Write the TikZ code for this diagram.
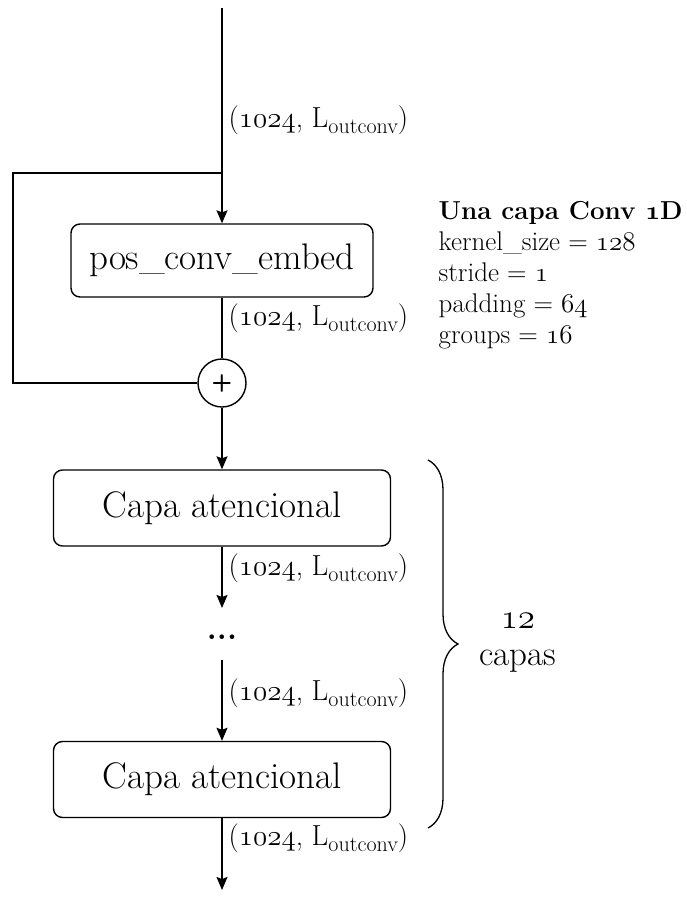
\RequirePackage{fix-cm}
\documentclass[tikz,border=0pt]{standalone}
\usetikzlibrary{arrows.meta,decorations.pathreplacing}

% old-style figures taken from the math italic font
\newcommand\osf[1]{{\usefont{OML}{cmm}{m}{it}#1}}
\newcommand\osfb[1]{{\usefont{OML}{cmm}{b}{it}#1}}
\newcommand\dimlabel{(\osf{1024}, L\raisebox{-0.22em}{\fontsize{22}{22}\selectfont outconv})}

\tikzset{
  block/.style={draw, rounded corners=9pt, inner sep=0pt,
    font=\fontsize{37}{42}\selectfont},
  dimtext/.style={anchor=west, inner sep=0pt, font=\fontsize{29}{32}\selectfont},
  flow/.style={->},
}

\begin{document}
\begin{tikzpicture}[x=1pt, y=-1pt, line width=1.4pt,
  >={Stealth[length=13pt,width=11pt,inset=2pt]}]
\useasboundingbox (0,0) rectangle (687,899);

% blocks
\node[block, minimum width=302pt, minimum height=73pt] (pce) at (222,260.5) {pos\_conv\_embed};
\node[circle, draw, minimum size=48pt, inner sep=0pt] (add) at (222,383)
  {\fontsize{24}{24}\selectfont\sffamily\bfseries +};
\node[block, minimum width=337pt, minimum height=76pt] (att1) at (222,508) {Capa atencional};
\node[inner sep=0pt, font=\fontsize{32}{32}\selectfont\bfseries] (dots) at (222,637) {...};
\node[block, minimum width=337pt, minimum height=76pt] (att2) at (222,779.5) {Capa atencional};

% free ends of the connectors
\coordinate (top) at (222,8);
\coordinate (split) at (222,173);
\coordinate (loopL) at (13,173);
\coordinate (d1) at (222,608);
\coordinate (d2) at (222,660);
\coordinate (bot) at (222,890);

% connectors
\draw[flow] (top) -- (pce);
\draw (split) -- (loopL) |- (add);
\draw (pce) -- (add);
\draw[flow] (add) -- (att1);
\draw[flow] (att1) -- (d1);
\draw[flow] (d2) -- (att2);
\draw[flow] (att2) -- (bot);

% tensor shapes
\node[dimtext] (s0) at (228,120) {\dimlabel};
\node[dimtext] (s1) at (228,318) {\dimlabel};
\node[dimtext] (s2) at (228,568) {\dimlabel};
\node[dimtext] (s3) at (228,693) {\dimlabel};
\node[dimtext] (s4) at (228,838) {\dimlabel};

% layer parameters
\node[anchor=north west, inner sep=0pt, align=left,
  font=\fontsize{27}{31}\selectfont] (params) at (438,201)
  {{\fontsize{26}{31}\selectfont\bfseries Una capa Conv \osfb{1}D}\\
   kernel\_size = \osf{128}\\
   stride = \osf{1}\\
   padding = \osf{64}\\
   groups = \osf{16}};

% repeated layers
\coordinate (brT) at (428,460);
\coordinate (brB) at (428,828);
\draw[line width=1.3pt, decorate, decoration={brace, amplitude=30pt, aspect=0.5}] (brT) -- (brB);
\node[align=center, inner sep=0pt, font=\fontsize{35}{37}\selectfont] (reps) at (518,643)
  {\osf{12}\\capas};
\end{tikzpicture}
\end{document}
